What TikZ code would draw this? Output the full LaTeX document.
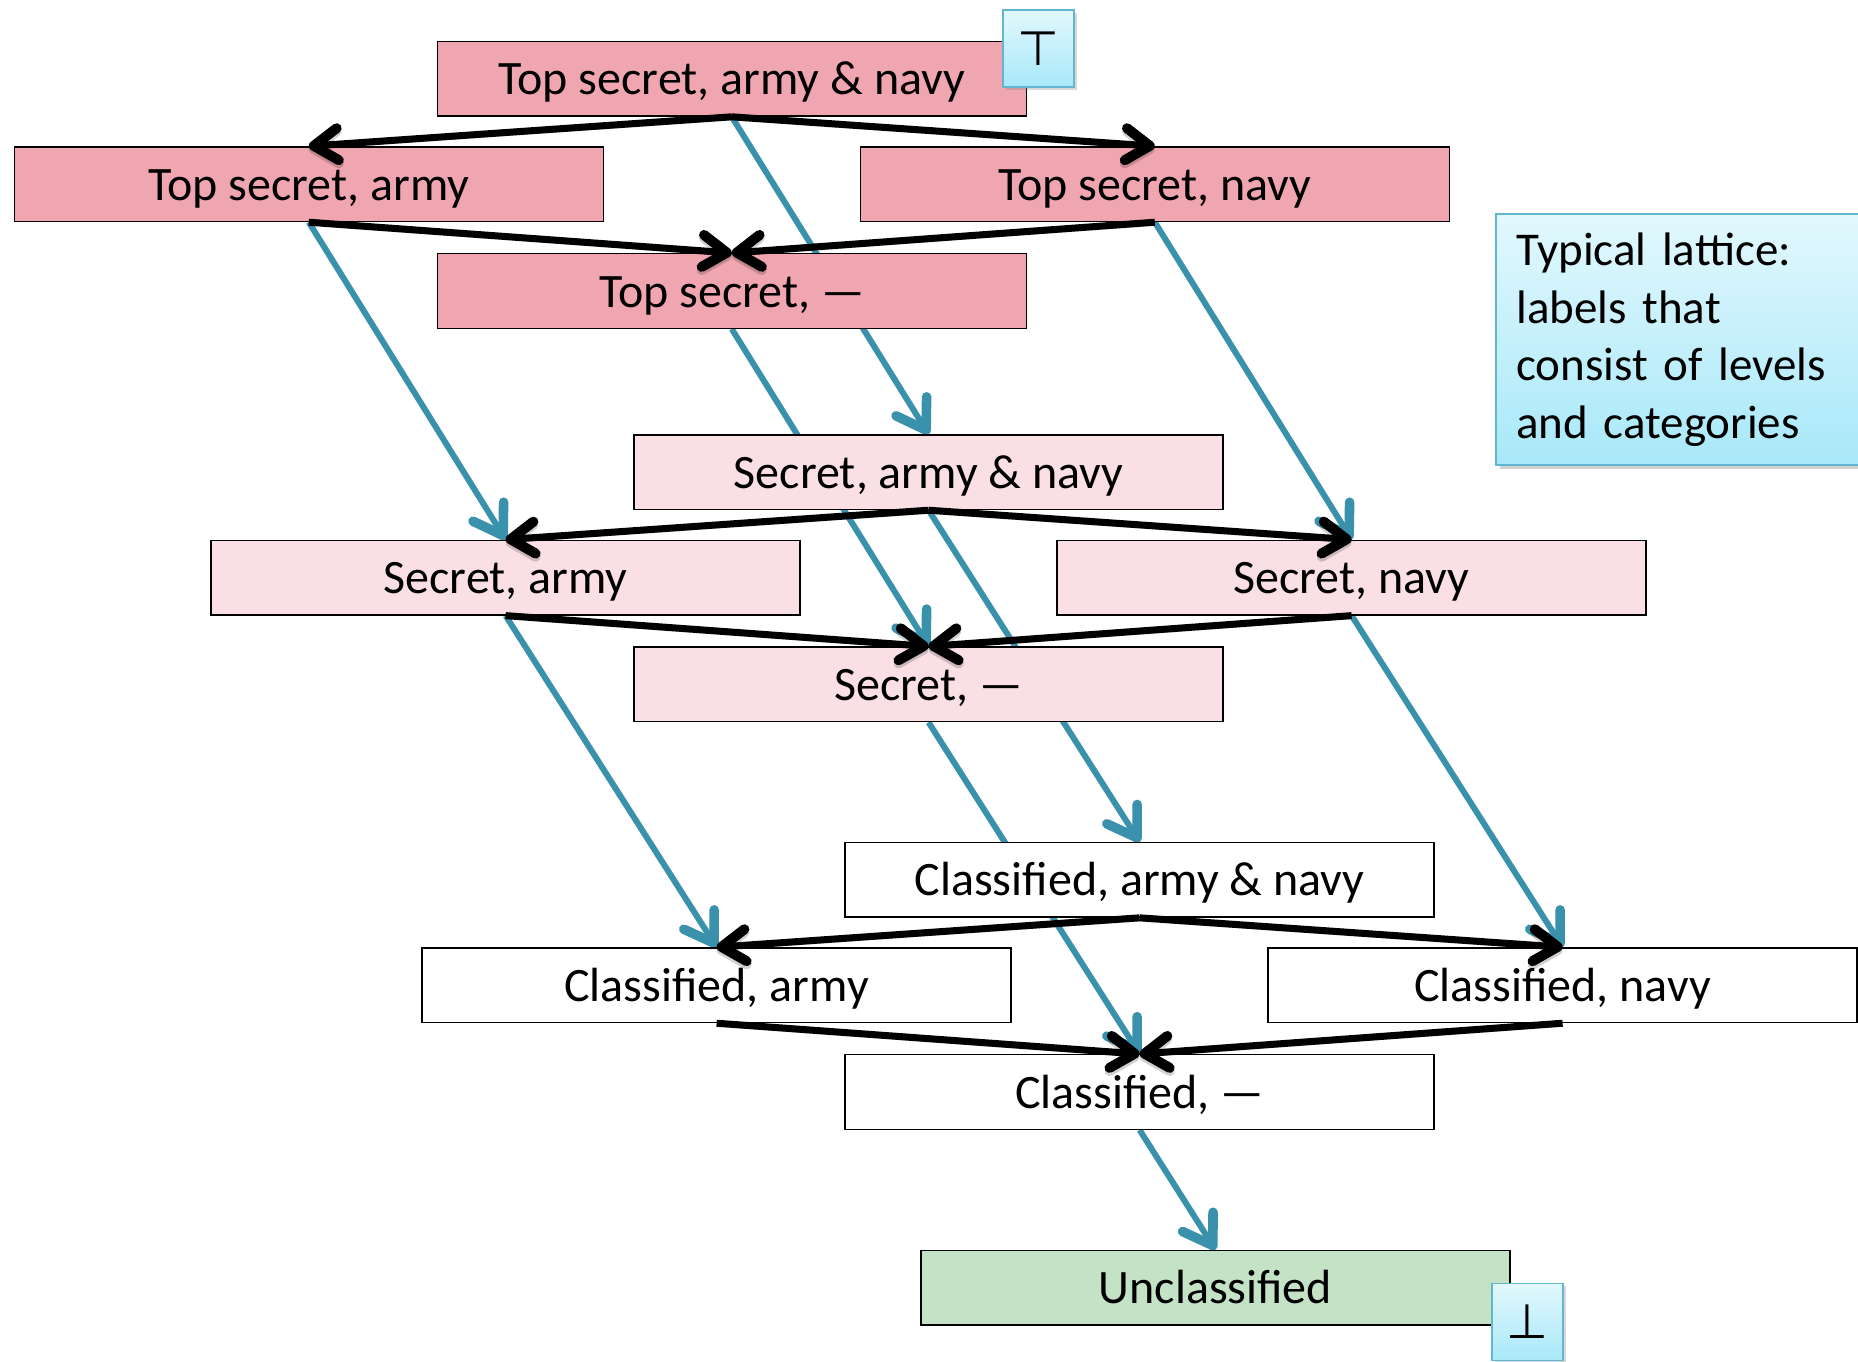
\documentclass[tikz,border=0pt]{standalone}
\usepackage{fontspec}
\setmainfont{Carlito}
\newfontfamily\symfont{DejaVu Sans}
\usepackage{xcolor}
\usepackage{tikz}
\usetikzlibrary{arrows.meta}
\usetikzlibrary{positioning}
\usetikzlibrary{shadows}
\definecolor{tspink}{HTML}{F0A6B0}
\definecolor{spink}{HTML}{FAE0E4}
\definecolor{ugreen}{HTML}{C4E2C6}
\definecolor{flowblue}{HTML}{3A91AB}
\definecolor{notetop}{HTML}{E2F8FD}
\definecolor{notebot}{HTML}{A8E8F9}
\definecolor{noteedge}{HTML}{62B6CE}
\pgfdeclarelayer{back}
\pgfsetlayers{back,main}
\tikzstyle{process} = [rectangle, minimum width=294.5pt, minimum height=37.3pt, text height=20.5pt, text depth=4.5pt, text centered, draw=black, line width=0.7pt, font=\fontsize{24}{28}\selectfont]
\tikzstyle{bound} = [rectangle, minimum width=35.5pt, minimum height=38.5pt, draw=noteedge, line width=0.9pt, top color=notetop, bottom color=notebot, drop shadow={opacity=0.3, shadow xshift=1.2pt, shadow yshift=-1.2pt}, font=\symfont\fontsize{24}{26}\selectfont]
\tikzstyle{notebox} = [rectangle, text width=175pt, minimum height=125.6pt, inner xsep=10pt, align=left, draw=noteedge, line width=0.9pt, top color=notetop, bottom color=notebot, drop shadow={opacity=0.35, shadow xshift=2pt, shadow yshift=-2pt}, font=\fontsize{23.5}{28.7}\selectfont]
\tikzstyle{arrow} = [line width=3.5pt, -{Straight Barb[length=12pt,width=16pt,round,line width=5pt]}, preaction={draw, black, opacity=0.18, transform canvas={yshift=-1.6pt}}]
\tikzstyle{flow} = [flowblue, line width=3pt, -{Straight Barb[length=14pt,width=18pt,round,line width=4.8pt]}]

\begin{document}
\begin{tikzpicture}
    \useasboundingbox (0,0) rectangle (929pt,-680.8pt);
    \node(tsan)[process, fill=tspink] at (365.9pt,-39.4pt) {Top secret, army \& navy};
    \node(tsa)[node distance=211.5pt, process, fill=tspink, left of=tsan, yshift=-52.7pt] {Top secret, army};
    \node(tsn)[node distance=211.5pt, process, fill=tspink, right of=tsan, yshift=-52.7pt] {Top secret, navy};
    \node(tsnone)[node distance=106.1pt, process, fill=tspink, below of=tsan] {Top secret, ---};
    %
    \node(san)[node distance=196.7pt, process, fill=spink, below of=tsan, xshift=98.4pt] {Secret, army \& navy};
    \node(sa)[node distance=211.5pt, process, fill=spink, left of=san, yshift=-52.7pt] {Secret, army};
    \node(sn)[node distance=211.5pt, process, fill=spink, right of=san, yshift=-52.7pt] {Secret, navy};
    \node(snone)[node distance=106.1pt, process, fill=spink, below of=san] {Secret, ---};
    %
    \node(can)[node distance=203.8pt, process, fill=white, below of=san, xshift=105.5pt] {Classified, army \& navy};
    \node(ca)[node distance=211.5pt, process, fill=white, left of=can, yshift=-52.7pt] {Classified, army};
    \node(cn)[node distance=211.5pt, process, fill=white, right of=can, yshift=-52.7pt] {Classified, navy};
    \node(cnone)[node distance=106.1pt, process, fill=white, below of=can] {Classified, ---};
    %
    \node(uncl)[node distance=97.8pt, process, fill=ugreen, below of=cnone, xshift=37.9pt] {Unclassified};
    \node(topel)[bound] at ([xshift=5.9pt, yshift=-3.9pt]tsan.north east) {⊤};
    \node(botel)[bound] at ([xshift=8.6pt, yshift=1.8pt]uncl.south east) {⊥};
    \node(note)[notebox, anchor=north west] at (747.7pt,-106.6pt) {Typical lattice:\\labels that\\consist of levels\\and categories};
    %
    \begin{pgfonlayer}{back}
    \draw[flow](tsan.south) -- (san.north);
    \draw[flow](tsa.south) -- (sa.north);
    \draw[flow](tsn.south) -- (sn.north);
    \draw[flow](tsnone.south) -- (snone.north);
    \draw[flow](san.south) -- (can.north);
    \draw[flow](sa.south) -- (ca.north);
    \draw[flow](sn.south) -- (cn.north);
    \draw[flow](snone.south) -- (cnone.north);
    \draw[flow](cnone.south) -- (uncl.north);
    \end{pgfonlayer}
    %
    \draw[arrow](tsan.south) -- (tsa.north);
    \draw[arrow](tsan.south) -- (tsn.north);
    \draw[arrow](tsa.south) -- (tsnone.north);
    \draw[arrow](tsn.south) -- (tsnone.north);
    \draw[arrow](san.south) -- (sa.north);
    \draw[arrow](san.south) -- (sn.north);
    \draw[arrow](sa.south) -- (snone.north);
    \draw[arrow](sn.south) -- (snone.north);
    \draw[arrow](can.south) -- (ca.north);
    \draw[arrow](can.south) -- (cn.north);
    \draw[arrow](ca.south) -- (cnone.north);
    \draw[arrow](cn.south) -- (cnone.north);
\end{tikzpicture}
\end{document}
